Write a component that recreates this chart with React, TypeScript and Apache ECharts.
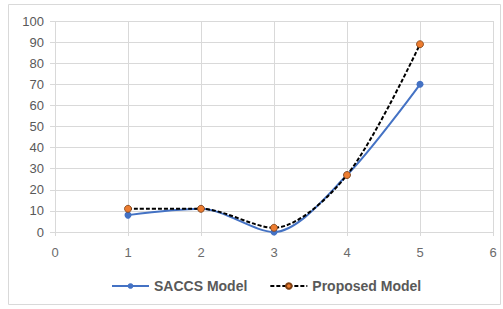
import React, { useEffect, useRef } from "react";
import * as echarts from "echarts";

const xValues = [1, 2, 3, 4, 5];
const saccsModel = [8, 11, 0, 27, 70];
const proposedModel = [11, 11, 2, 27, 89];
const seriesNames = ["SACCS Model", "Proposed Model"];

export default function App() {
  const ref = useRef<HTMLDivElement>(null);
  useEffect(() => {
    if (!ref.current) return;
    const chart = echarts.init(ref.current, null, { renderer: "svg" });
    const font = "Liberation Sans, Arial, sans-serif";
    chart.setOption({
      animation: false,
      backgroundColor: "#ffffff",
      graphic: [
        {
          type: "rect",
          shape: { x: 8.5, y: 4.5, width: 492, height: 300 },
          style: { fill: "none", stroke: "#d9d9d9", lineWidth: 1 },
          silent: true,
        },
      ],
      grid: { left: 55, right: 10, top: 21, bottom: 77 },
      xAxis: {
        type: "value",
        min: 0,
        max: 6,
        interval: 1,
        axisLine: { show: true, lineStyle: { color: "#d9d9d9" } },
        axisTick: { show: true, length: 4, lineStyle: { color: "#d9d9d9" } },
        splitLine: { show: true, lineStyle: { color: "#d9d9d9" } },
        axisLabel: { color: "#6b6b6b", fontSize: 13, fontFamily: font, margin: 14 },
      },
      yAxis: {
        type: "value",
        min: 0,
        max: 100,
        interval: 10,
        axisLine: { show: false },
        axisTick: { show: true, length: 5, lineStyle: { color: "#d9d9d9" } },
        splitLine: { show: true, lineStyle: { color: "#d9d9d9" } },
        axisLabel: { color: "#595959", fontSize: 13, fontFamily: font, margin: 11 },
      },
      legend: {
        top: 274,
        left: 106,
        itemWidth: 37,
        itemHeight: 7,
        itemGap: 22,
        textStyle: { color: "#595959", fontSize: 14, fontWeight: "bold", fontFamily: font },
        data: seriesNames,
      },
      series: [
        {
          name: seriesNames[0],
          type: "line",
          data: xValues.map((x, i) => [x, saccsModel[i]]),
          smooth: 0.3,
          symbol: "circle",
          symbolSize: 7,
          lineStyle: { color: "#4472C4", width: 2 },
          itemStyle: { color: "#4472C4" },
        },
        {
          name: seriesNames[1],
          type: "line",
          data: xValues.map((x, i) => [x, proposedModel[i]]),
          smooth: 0.3,
          symbol: "circle",
          symbolSize: 7,
          lineStyle: { color: "#000000", width: 2, type: [4, 2] },
          itemStyle: { color: "#ED7D31", borderColor: "#7f3f10", borderWidth: 0.8 },
        },
      ],
    });
    return () => chart.dispose();
  }, []);
  return (
    <div
      ref={ref}
      style={{ position: "absolute", left: 0, top: 0, width: 503, height: 309 }}
    />
  );
}
